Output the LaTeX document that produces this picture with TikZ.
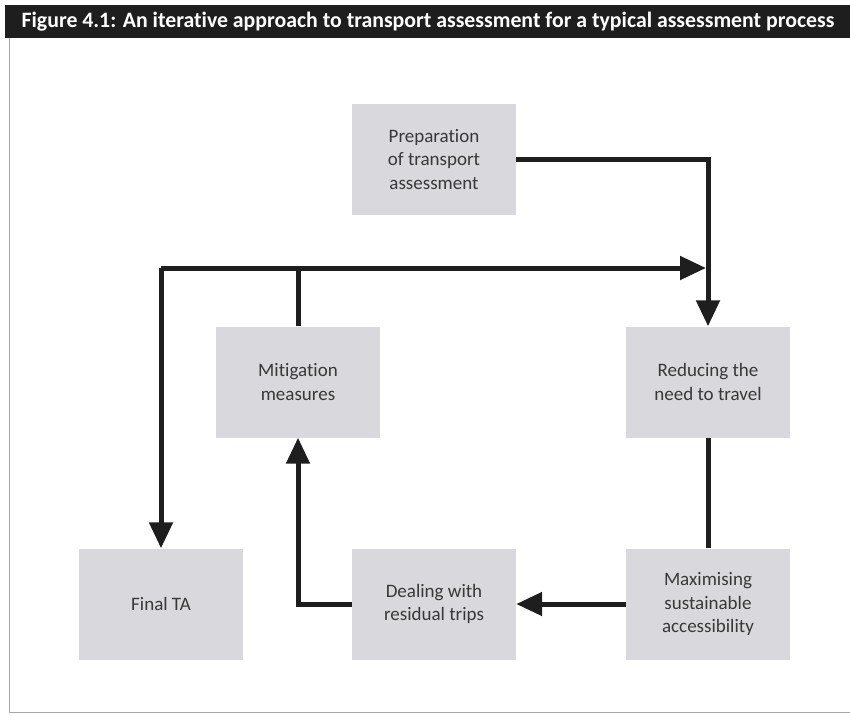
\documentclass[tikz,border=0pt]{standalone}
\usepackage{fontspec}
\setmainfont[Ligatures=NoCommon]{Carlito}
\usetikzlibrary{arrows.meta}
\definecolor{boxgray}{HTML}{D9D8DD}
\definecolor{txtgray}{HTML}{383838}
\definecolor{barblack}{HTML}{1E1E1E}

\begin{document}
\begin{tikzpicture}[x=1pt, y=-1pt,
                stage/.style={fill=boxgray, minimum width=164pt, minimum height=111pt,
                    inner sep=0pt, align=center, text=txtgray,
                    font=\fontsize{19}{23.5}\selectfont},
                flow/.style={line width=5pt, draw=barblack},
                tip/.style={flow, -{Triangle[length=26pt,width=23pt]}}]
            \useasboundingbox (0,0) rectangle (850,715);
            % frame and title bar
            \draw[gray!70, line width=1pt] (9,38) -- (9,712) -- (850,712);
            \fill[barblack] (5,5) rectangle (850,38);
            \node[text=white, font=\fontsize{22}{24}\bfseries, xscale=0.99] (title) at (428,22)
                {Figure 4.1: An iterative approach to transport assessment for a typical assessment process};
            % stages
            \node[stage] (prep) at (434,159.5) {Preparation\\of transport\\assessment};
            \node[stage] (reduce) at (708,382) {Reducing the\\need to travel};
            \node[stage] (mitig) at (298,382) {Mitigation\\measures};
            \node[stage] (final) at (161,604) {Final TA};
            \node[stage] (deal) at (434,604) {Dealing with\\residual trips};
            \node[stage] (maxim) at (708,604) {Maximising\\sustainable\\accessibility};
            % loop
            \coordinate (join) at (706,268);
            \draw[tip] (prep.east) -| (reduce.north);
            \draw[flow] (reduce.south) -- (maxim.north);
            \draw[tip] (maxim.west) -- (deal.east);
            \draw[tip] (deal.west) -| (mitig.south);
            \draw[flow] (mitig.north) -- (mitig.north |- join);
            \draw[tip] (final.north |- join) -- (join);
            \draw[tip] (final.north |- join) -- (final.north);
        \end{tikzpicture}
\end{document}
